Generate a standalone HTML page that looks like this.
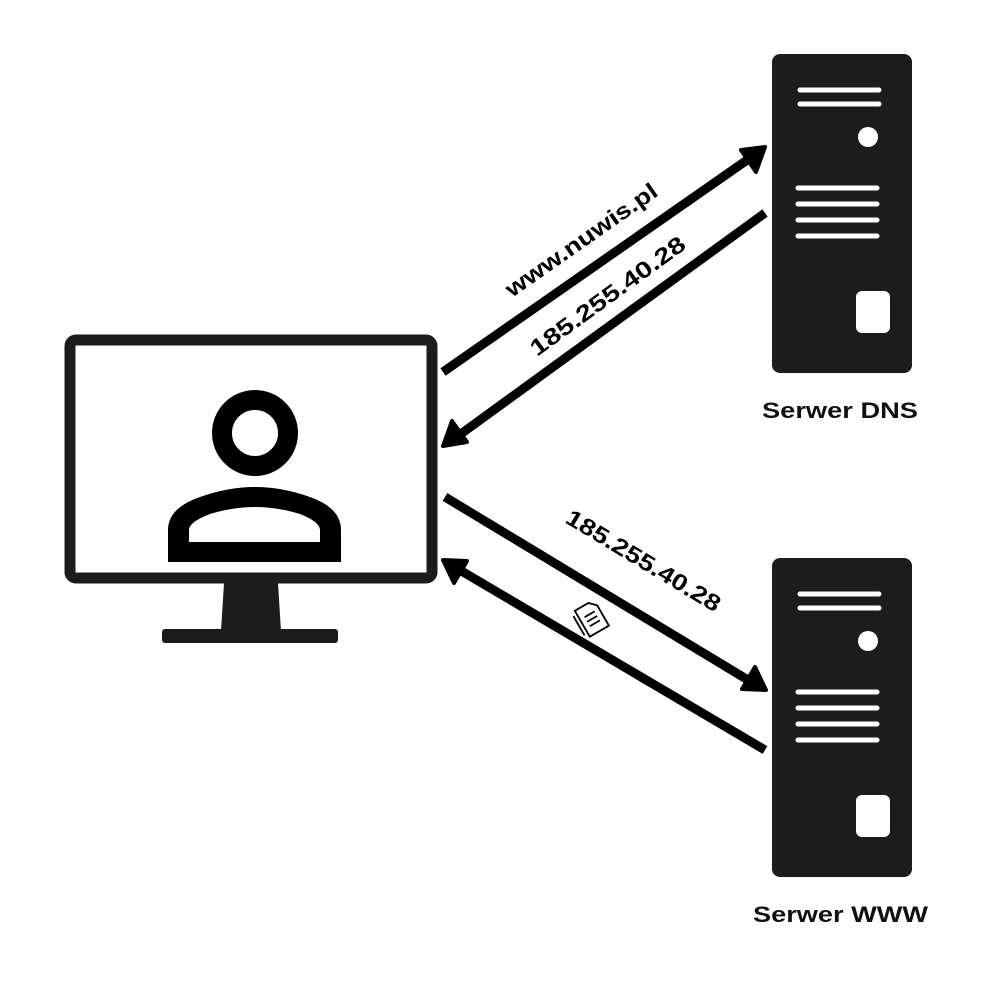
<!DOCTYPE html>
<html><head><style>body{margin:0;background:#fff}svg{display:block}text{font-family:"Liberation Sans",sans-serif;font-weight:bold}</style></head>
<body>
<svg width="985" height="986" viewBox="0 0 985 986" xmlns="http://www.w3.org/2000/svg">
<rect width="985" height="986" fill="#fff"/>
<!-- monitor -->
<rect x="70" y="340" width="362" height="238" rx="6" fill="none" stroke="#1c1c1c" stroke-width="11"/>
<path d="M224,583 L278,583 L281,631 L221,631 Z" fill="#1c1c1c"/>
<rect x="162" y="629" width="176" height="14" rx="3" fill="#1c1c1c"/>
<circle cx="255" cy="433" r="33" fill="none" stroke="#000" stroke-width="20"/>
<path fill="#000" fill-rule="evenodd" d="M168,562 V530 Q168,508 200,497 Q228,487 255,487 Q282,487 310,497 Q341,508 341,530 V562 Z M189,542 V530 Q189,522 210,514 Q233,507 255,507 Q277,507 300,514 Q320,522 320,530 V542 Z"/>
<!-- servers -->
<g id="srv">
<rect x="772" y="54" width="140" height="319" rx="8" fill="#1c1c1c"/>
<g stroke="#fff" stroke-width="5" stroke-linecap="round">
<line x1="800" y1="90" x2="879" y2="90"/><line x1="800" y1="104" x2="879" y2="104"/>
<line x1="798" y1="188" x2="877" y2="188"/><line x1="798" y1="204" x2="877" y2="204"/>
<line x1="798" y1="220" x2="877" y2="220"/><line x1="798" y1="236" x2="877" y2="236"/>
</g>
<circle cx="868" cy="137" r="10" fill="#fff"/>
<rect x="856" y="291" width="34" height="42" rx="6" fill="#fff"/>
</g>
<use href="#srv" transform="translate(0,504)"/>
<text x="762" y="418" font-size="22" textLength="156" lengthAdjust="spacingAndGlyphs" fill="#111">Serwer DNS</text>
<text x="753" y="922" font-size="22" textLength="175" lengthAdjust="spacingAndGlyphs" fill="#111">Serwer WWW</text>
<!-- arrows -->
<g stroke="#000" stroke-width="9">
<line x1="443" y1="372" x2="750" y2="158"/>
<line x1="765" y1="213" x2="458" y2="436"/>
<line x1="445" y1="497" x2="748" y2="680"/>
<line x1="765" y1="750" x2="458" y2="569"/>
</g>
<g fill="#000" stroke="#000" stroke-width="4" stroke-linejoin="round">
<polygon points="765,147 741,150 756,172"/>
<polygon points="443,446 467,442 452,421"/>
<polygon points="766,690 742,689 755,667"/>
<polygon points="443,560 467,561 454,583"/>
</g>
<text font-size="23" textLength="180" lengthAdjust="spacingAndGlyphs" transform="translate(512,298) rotate(-35)">www.nuwis.pl</text>
<text font-size="23" textLength="186" lengthAdjust="spacingAndGlyphs" transform="translate(537,357) rotate(-36)">185.255.40.28</text>
<text font-size="23" textLength="176" lengthAdjust="spacingAndGlyphs" transform="translate(564,522) rotate(31)">185.255.40.28</text>
<g transform="translate(591,618) rotate(-30) scale(1.3)" fill="none" stroke="#000" stroke-width="1.4">
<path d="M-8,-11 H4 L9,-6 V12 H-8 Z"/><path d="M-11,-8 V9"/><path d="M-4,-3 H5 M-4,1 H5 M-4,5 H5"/>
</g>
</svg>
</body></html>
